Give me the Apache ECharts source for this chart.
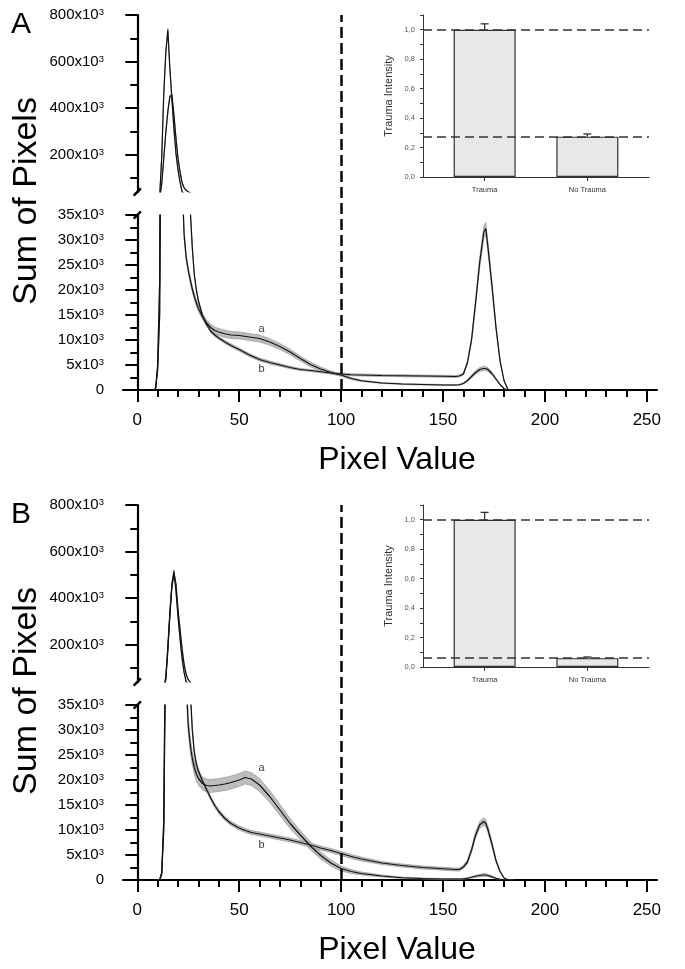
<!DOCTYPE html>
<html><head><meta charset="utf-8">
<script src="https://cdn.jsdelivr.net/npm/echarts@6/dist/echarts.min.js"></script>
<style>html,body{margin:0;padding:0;background:#fff}#c{width:685px;height:969px}</style>
</head><body><div id="c"></div>
<script>
// ---------- tick labels ----------
const xTickLabels = [0, 50, 100, 150, 200, 250];
const xMinorTicks = [10,20,30,40,60,70,80,90,110,120,130,140,160,170,180,190,210,220,230,240];
const upperTickLabels = [200000, 400000, 600000, 800000];
const upperMinorTicks = [100000, 300000, 500000, 700000];
const insetCats = ['Trauma', 'No Trauma'];
const insetTickLabels = [0, 0.2, 0.4, 0.6, 0.8, 1.0];
const dashX = 100;

// ---------- Panel A ----------
const pixA = [8,9,10,11,12,13,14,15,16,17,
  18,19,20,21,22,23,24,25,26,27,
  28,29,30,32,34,36,38,40,43,46,
  50,55,60,65,70,75,80,85,90,95,
  100,105,110,120,130,140,150,156,158,160,
  162,164,166,168,170,171,172,174,176,178,
  180,182,185];
const meanA_a = [0,300,5000,22000,190000,460000,640000,735000,570000,440000,
  310000,205000,135000,82000,42000,31000,26500,24000,22000,20200,
  18700,17400,16300,14700,13400,12500,11900,11600,11250,11000,
  10900,10600,10300,9600,8700,7600,6300,5100,4200,3500,
  3000,2300,1850,1400,1200,1100,1000,1000,1050,1300,
  1900,2700,3500,4100,4300,4300,4100,3300,2200,1100,
  250,0,0];
const semA_a = [0,0,200,800,5000,8000,9000,9000,8000,7000,
  5000,4000,3000,2000,1200,800,700,650,600,600,
  600,600,600,600,600,650,700,700,700,700,
  700,700,700,650,600,550,500,450,400,300,
  250,200,150,100,100,100,100,100,100,120,
  200,300,350,400,400,400,400,300,200,100,
  50,0,0];
const meanA_b = [0,300,4000,15000,75000,185000,295000,385000,450000,455000,
  370000,270000,185000,125000,80000,58000,47000,41000,36000,28500,
  23000,20000,17800,14900,13100,11800,11000,10400,9600,8900,
  8100,7000,6100,5500,5000,4500,4100,3900,3650,3400,
  3200,3050,3000,2900,2850,2800,2750,2700,2800,3200,
  5500,10000,17500,25500,31500,32300,28800,21000,12500,5800,
  1800,0,0];
const semA_b = [0,0,150,600,3000,5000,6000,6000,6000,6000,
  5000,4000,3000,2000,1500,1000,800,600,500,400,
  350,300,300,300,300,300,300,300,300,300,
  300,300,300,300,250,250,200,200,200,200,
  200,200,200,200,200,200,200,200,200,200,
  300,500,700,1000,1200,1200,1100,800,500,300,
  100,0,0];
const curveLabelsA = [['a', 61, 12300], ['b', 61, 4200]];
const insetA = [1.0, 0.274];
const insetErrA = [0.04, 0.018];

// ---------- Panel B ----------
const pixB = [10,11,12,13,14,15,16,17,18,19,
  20,21,22,23,24,25,26,27,28,29,
  30,32,34,36,38,40,43,46,50,53,
  56,60,65,70,75,80,85,90,95,100,
  105,110,120,130,140,150,156,158,160,162,
  164,166,168,170,171,172,174,176,178,180,
  182,185];
const meanB_a = [0,0,1500,12000,60000,190000,340000,460000,515000,430000,
  320000,225000,140000,80000,40000,31000,27000,24300,22500,21200,
  20300,19300,18900,18800,18900,19000,19200,19500,20000,20500,
  20200,19000,16700,14000,11300,9000,6800,4900,3400,2300,
  1700,1300,800,450,300,200,200,200,250,350,
  550,750,900,1000,1000,900,650,350,150,50,
  0,0];
const semB_a = [0,0,100,500,2000,6000,8000,9000,9000,8000,
  7000,5000,4000,3000,2000,1500,1400,1300,1300,1300,
  1300,1300,1300,1300,1300,1300,1300,1300,1300,1300,
  1300,1300,1200,1100,1000,900,800,700,600,500,
  400,300,200,150,100,100,100,100,100,120,
  150,200,250,300,300,250,200,100,50,0,
  0,0];
const meanB_b = [0,0,1200,10000,50000,175000,325000,450000,505000,460000,
  350000,265000,180000,115000,72000,50000,38000,30000,25500,23200,
  21800,19800,18100,16400,14900,13700,12300,11300,10400,9900,
  9500,9200,8800,8400,8000,7500,7000,6400,5900,5300,
  4700,4200,3400,2900,2500,2250,2100,2100,2600,3600,
  6000,9000,11000,11700,11300,10200,7200,3900,1700,400,
  0,0];
const semB_b = [0,0,100,400,1500,5000,7000,8000,8000,8000,
  6000,5000,4000,3000,2000,1000,800,600,500,500,
  450,400,400,400,400,400,400,400,400,400,
  400,400,400,400,400,400,400,400,400,400,
  400,400,300,300,300,300,300,300,300,400,
  500,600,700,750,750,700,500,300,150,50,
  0,0];
const curveLabelsB = [['a', 61, 22500], ['b', 61, 7000]];
const insetB = [1.0, 0.06];
const insetErrB = [0.05, 0.008];

// ---------- styling / layout ----------
const FONT = '"Liberation Sans", Arial, Helvetica, sans-serif';
const BREAK = 'path://M0,8 L8,0 L10,2 L2,10 Z';
const L = 123, R = 28, XMIN = -7, XMAX = 255;
const axisLineStyle = {color: '#000', width: 2.2};
const tickStyle = {color: '#000', width: 2};
const kfmt = v => v === 0 ? '0' : (v / 1000) + 'x10{s|3}';
const richK = {s: {fontSize: 9.5, lineHeight: 9, verticalAlign: 'top', fontFamily: FONT, color: '#000'}};

const option = {animation: false, backgroundColor: '#fff', grid: [], xAxis: [], yAxis: [], series: [], graphic: []};

function bandSeries(pix, c, xa, ya) {
  return {
    type: 'custom', xAxisIndex: xa, yAxisIndex: ya, silent: true, clip: true,
    data: [[pix[0], 0]], encode: {x: 0, y: 1},
    renderItem: (params, api) => {
      if (params.dataIndex !== 0) return;
      const up = pix.map((x, i) => api.coord([x, c.mean[i] + c.sem[i]]));
      const lo = pix.map((x, i) => api.coord([x, c.mean[i] - c.sem[i]])).reverse();
      return {type: 'polygon', shape: {points: up.concat(lo)},
        style: {fill: '#bdbdbd', stroke: '#8c8c8c', lineWidth: 0.6}};
    }
  };
}

function addPanel(letter, off, pix, curves, labels, inset, insetErr) {
  const g = option.grid.length, xi = option.xAxis.length, yi = option.yAxis.length;
  option.grid.push(
    {left: L, right: R, top: 15 + off, height: 177, outerBoundsMode: 'none'},
    {left: L, right: R, top: 215 + off, height: 175, outerBoundsMode: 'none'},
    {left: L, right: R, top: 15 + off, height: 375, outerBoundsMode: 'none'},
    {left: 423, width: 226, top: 15 + off, height: 162, outerBoundsMode: 'none'}
  );
  option.xAxis.push(
    {gridIndex: g, type: 'value', min: XMIN, max: XMAX, show: false},
    {gridIndex: g + 1, type: 'value', min: XMIN, max: XMAX, position: 'bottom',
      axisLine: {onZero: false, lineStyle: axisLineStyle}, splitLine: {show: false},
      axisTick: {customValues: xTickLabels, length: 12, lineStyle: tickStyle},
      axisLabel: {customValues: xTickLabels, margin: 22, fontSize: 17, color: '#000', fontFamily: FONT}},
    {gridIndex: g + 1, type: 'value', min: XMIN, max: XMAX, position: 'bottom',
      axisLine: {show: false, onZero: false}, splitLine: {show: false},
      axisTick: {customValues: xMinorTicks, length: 7, lineStyle: tickStyle},
      axisLabel: {show: false}},
    {gridIndex: g + 2, type: 'value', min: XMIN, max: XMAX, show: false},
    {gridIndex: g + 3, type: 'value', min: 0.4, max: 2.6, splitLine: {show: false},
      axisLine: {onZero: false, lineStyle: {color: '#333', width: 1}},
      axisTick: {customValues: [1, 2], length: 4, lineStyle: {color: '#333'}},
      axisLabel: {customValues: [1, 2], formatter: v => insetCats[Math.round(v) - 1] || '',
        fontSize: 7.5, color: '#333', margin: 9, fontFamily: FONT}}
  );
  option.yAxis.push(
    {gridIndex: g, type: 'value', min: 40000, max: 800000, position: 'left', splitLine: {show: false},
      axisLine: {onZero: true, onZeroAxisIndex: xi, symbol: [BREAK, 'none'], symbolSize: [9, 9], lineStyle: axisLineStyle},
      axisTick: {customValues: upperTickLabels, length: 12, lineStyle: tickStyle},
      axisLabel: {customValues: upperTickLabels, formatter: kfmt, rich: richK, margin: 19, fontSize: 15, color: '#000', fontFamily: FONT}},
    {gridIndex: g, type: 'value', min: 40000, max: 800000, position: 'left', splitLine: {show: false},
      axisLine: {show: false, onZero: true, onZeroAxisIndex: xi},
      axisTick: {customValues: upperMinorTicks, length: 7, lineStyle: tickStyle},
      axisLabel: {show: false}},
    {gridIndex: g + 1, type: 'value', min: 0, max: 35000, interval: 5000, position: 'left', splitLine: {show: false},
      axisLine: {onZero: true, onZeroAxisIndex: xi + 1, symbol: ['none', BREAK], symbolSize: [9, 9], lineStyle: axisLineStyle},
      axisTick: {length: 12, lineStyle: tickStyle},
      minorTick: {show: true, splitNumber: 2, length: 7, lineStyle: tickStyle},
      minorSplitLine: {show: false},
      axisLabel: {formatter: kfmt, rich: richK, margin: 19, fontSize: 15, color: '#000', fontFamily: FONT}},
    {gridIndex: g + 2, type: 'value', min: 0, max: 1, show: false},
    {gridIndex: g + 3, type: 'value', min: 0, max: 1.1, interval: 0.1, splitLine: {show: false},
      name: 'Trauma Intensity', nameLocation: 'middle', nameGap: 29,
      nameTextStyle: {fontSize: 11, color: '#333', fontFamily: FONT},
      axisLine: {lineStyle: {color: '#333', width: 1}},
      axisTick: {length: 3, lineStyle: {color: '#333'}},
      axisLabel: {customValues: insetTickLabels, formatter: v => v.toFixed(1).replace('.', ','),
        fontSize: 7.5, color: '#555', margin: 8, fontFamily: FONT}}
  );

  const bands = [], lines = [];
  const targets = [[xi, yi], [xi + 1, yi + 2]];
  curves.forEach(c => {
    targets.forEach(([xa, ya]) => {
      bands.push(bandSeries(pix, c, xa, ya));
      lines.push({type: 'line', xAxisIndex: xa, yAxisIndex: ya, symbol: 'none', silent: true,
        data: pix.map((x, i) => [x, c.mean[i]]),
        lineStyle: {color: '#111', width: 1.2}});
    });
  });
  option.series.push(...bands, ...lines);

  option.series.push({
    type: 'scatter', xAxisIndex: xi + 1, yAxisIndex: yi + 2, symbolSize: 1, silent: true,
    itemStyle: {color: 'transparent'},
    data: labels.map(l => ({name: l[0], value: [l[1], l[2]]})),
    label: {show: true, position: 'inside', formatter: '{b}', fontSize: 11, color: '#000', fontFamily: FONT}
  });

  option.series.push({
    type: 'line', xAxisIndex: xi + 3, yAxisIndex: yi + 3, data: [], silent: true,
    markLine: {silent: true, symbol: 'none', animation: false, label: {show: false},
      lineStyle: {type: [11, 5], color: '#000', width: 2.5}, data: [{xAxis: dashX}]}
  });

  option.series.push({
    type: 'bar', xAxisIndex: xi + 4, yAxisIndex: yi + 4, barWidth: 62, silent: true,
    data: inset.map((v, i) => [i + 1, v]),
    itemStyle: {color: '#e8e8e8', borderColor: '#333', borderWidth: 1.2},
    markLine: {silent: true, symbol: 'none', animation: false, label: {show: false},
      lineStyle: {type: [9, 5], color: '#333', width: 1.5},
      data: inset.map(v => ({yAxis: v}))}
  });
  option.series.push({
    type: 'custom', xAxisIndex: xi + 4, yAxisIndex: yi + 4, silent: true,
    data: inset.map((v, i) => [i + 1, v, insetErr[i]]),
    encode: {x: 0, y: 1},
    renderItem: (params, api) => {
      const x = api.value(0), y = api.value(1), e = api.value(2);
      const p0 = api.coord([x, y]), p1 = api.coord([x, y + e]);
      const st = {stroke: '#333', lineWidth: 1.3};
      return {type: 'group', children: [
        {type: 'line', shape: {x1: p0[0], y1: p0[1], x2: p1[0], y2: p1[1]}, style: st},
        {type: 'line', shape: {x1: p1[0] - 4, y1: p1[1], x2: p1[0] + 4, y2: p1[1]}, style: st}
      ]};
    }
  });

  option.graphic.push(
    {type: 'text', x: 21, y: 25 + off, style: {text: letter, fontSize: 30, fontFamily: FONT, fill: '#000',
      align: 'center', verticalAlign: 'middle', textAlign: 'center', textVerticalAlign: 'middle'}},
    {type: 'text', x: 27, y: 201 + off, rotation: Math.PI / 2, style: {text: 'Sum of Pixels', fontSize: 34, fontFamily: FONT, fill: '#000',
      align: 'center', verticalAlign: 'middle', textAlign: 'center', textVerticalAlign: 'middle'}},
    {type: 'text', x: 397, y: 460 + off, style: {text: 'Pixel Value', fontSize: 32, fontFamily: FONT, fill: '#000',
      align: 'center', verticalAlign: 'middle', textAlign: 'center', textVerticalAlign: 'middle'}}
  );
}

addPanel('A', 0, pixA,
  [{mean: meanA_a, sem: semA_a}, {mean: meanA_b, sem: semA_b}], curveLabelsA, insetA, insetErrA);
addPanel('B', 490, pixB,
  [{mean: meanB_a, sem: semB_a}, {mean: meanB_b, sem: semB_b}], curveLabelsB, insetB, insetErrB);

const chart = echarts.init(document.getElementById('c'), null, {renderer: 'canvas'});
chart.setOption(option);
</script>
</body></html>
